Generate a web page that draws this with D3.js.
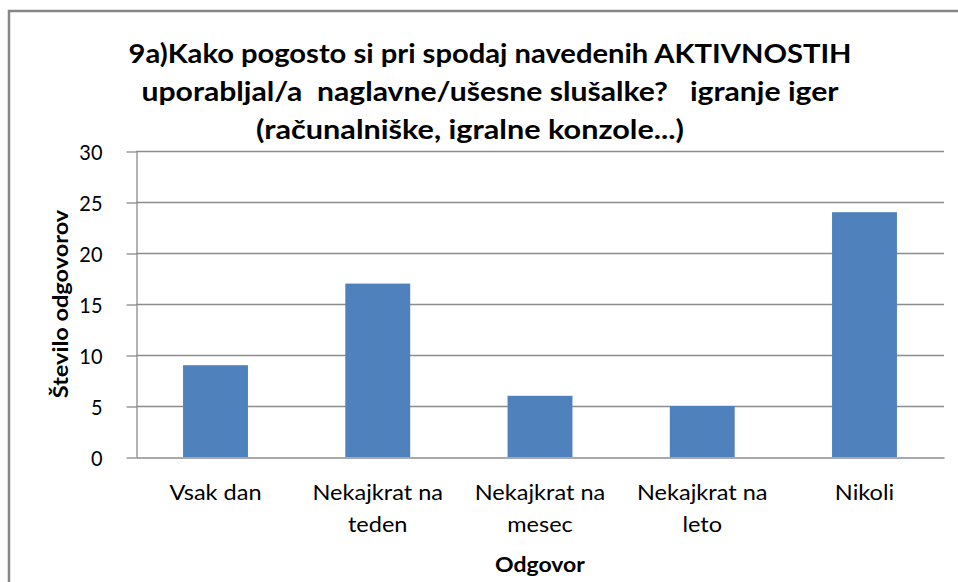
<!DOCTYPE html>
<html><head><meta charset="utf-8">
<script src="https://cdn.jsdelivr.net/npm/d3@7"></script>
<style>body{margin:0;background:#fff}svg{display:block}</style>
</head><body>
<script>
const categories = [["Vsak dan"], ["Nekajkrat na", "teden"], ["Nekajkrat na", "mesec"], ["Nekajkrat na", "leto"], ["Nikoli"]];
const values = [9, 17, 6, 5, 24];
const yTicks = [0, 5, 10, 15, 20, 25, 30];
const titleLines = ["9a)Kako pogosto si pri spodaj navedenih AKTIVNOSTIH", "uporabljal/a  naglavne/ušesne slušalke?   igranje iger", "(računalniške, igralne konzole...)"];
const yTitle = "Število odgovorov";
const xTitle = "Odgovor";

const W = 958, H = 582;
const font = "Lato, 'Open Sans', sans-serif";
const svg = d3.select("body").append("svg").attr("width", W).attr("height", H);
svg.append("rect").attr("width", W).attr("height", H).attr("fill", "#fff");
svg.append("rect").attr("x", 9).attr("y", 11).attr("width", W + 20).attr("height", H + 20)
  .attr("fill", "none").attr("stroke", "#868686").attr("stroke-width", 2.5);

const L = 136, R = 944, T = 151, B = 457;
const x = d3.scaleBand().domain(d3.range(categories.length)).range([L, R]).paddingInner(0.6).paddingOuter(0.29);
const y = d3.scaleLinear().domain([0, 30]).range([B, T]);

function stretch(sel, k) {
  sel.each(function () {
    const len = this.getComputedTextLength();
    d3.select(this).attr("textLength", len * k).attr("lengthAdjust", "spacingAndGlyphs");
  });
}

// gridlines
svg.append("g").selectAll("line").data(yTicks.filter(d => d > 0)).join("line")
  .attr("x1", L).attr("x2", R).attr("y1", d => y(d) + 0.5).attr("y2", d => y(d) + 0.5)
  .attr("stroke", "#8c8c8c").attr("stroke-width", 1.3);

// bars
svg.append("g").selectAll("rect").data(values).join("rect")
  .attr("x", (d, i) => x(i)).attr("width", x.bandwidth())
  .attr("y", d => y(d)).attr("height", d => B - y(d))
  .attr("fill", "#4F81BD");

// y axis
const yAxis = d3.axisLeft(y).tickValues(yTicks).tickSize(10).tickPadding(24).tickSizeOuter(0);
const gy = svg.append("g").attr("transform", `translate(${L + 0.5},0.5)`).call(yAxis);
gy.select(".domain").attr("stroke", "#8c8c8c").attr("stroke-width", 1.3);
gy.selectAll(".tick line").attr("stroke", "#8c8c8c").attr("stroke-width", 1.3);
gy.selectAll(".tick text").attr("font-family", font).attr("font-size", 21).attr("fill", "#000").attr("dy", "0.36em");
stretch(gy.selectAll(".tick text"), 0.95);

// x axis line
const xAxis = d3.axisBottom(x).tickSize(0).tickFormat("");
const gx = svg.append("g").attr("transform", `translate(0,${B + 0.5})`).call(xAxis);
gx.select(".domain").attr("stroke", "#8c8c8c").attr("stroke-width", 1.3);

// x labels
const xl = svg.append("g");
categories.forEach((lines, i) => {
  const cx = x(i) + x.bandwidth() / 2;
  lines.forEach((t, j) => {
    xl.append("text").attr("x", cx).attr("y", 500 + j * 32).attr("text-anchor", "middle")
      .attr("font-family", font).attr("font-size", 21).attr("fill", "#000").text(t);
  });
});
stretch(xl.selectAll("text"), 1.12);

// axis titles
const xt = svg.append("text").attr("x", (L + R) / 2).attr("y", 572).attr("text-anchor", "middle")
  .attr("font-family", font).attr("font-weight", "bold").attr("font-size", 20).text(xTitle);
stretch(xt, 1.15);
const yt = svg.append("text").attr("transform", `translate(68,304) rotate(-90)`).attr("text-anchor", "middle")
  .attr("font-family", font).attr("font-weight", "bold").attr("font-size", 21).text(yTitle);
stretch(yt, 1.12);

// title
const titleCx = [490, 490, 470];
const titleW = [723, 697, 428];
const tg = svg.append("g");
titleLines.forEach((t, i) => {
  const el = tg.append("text").attr("x", titleCx[i]).attr("y", 63 + i * 38).attr("text-anchor", "middle")
    .attr("font-family", font).attr("font-weight", "bold").attr("font-size", 26).attr("fill", "#000")
    .style("white-space", "pre").attr("xml:space", "preserve").text(t);
  el.attr("textLength", titleW[i]).attr("lengthAdjust", "spacingAndGlyphs");
});
</script>
</body></html>
